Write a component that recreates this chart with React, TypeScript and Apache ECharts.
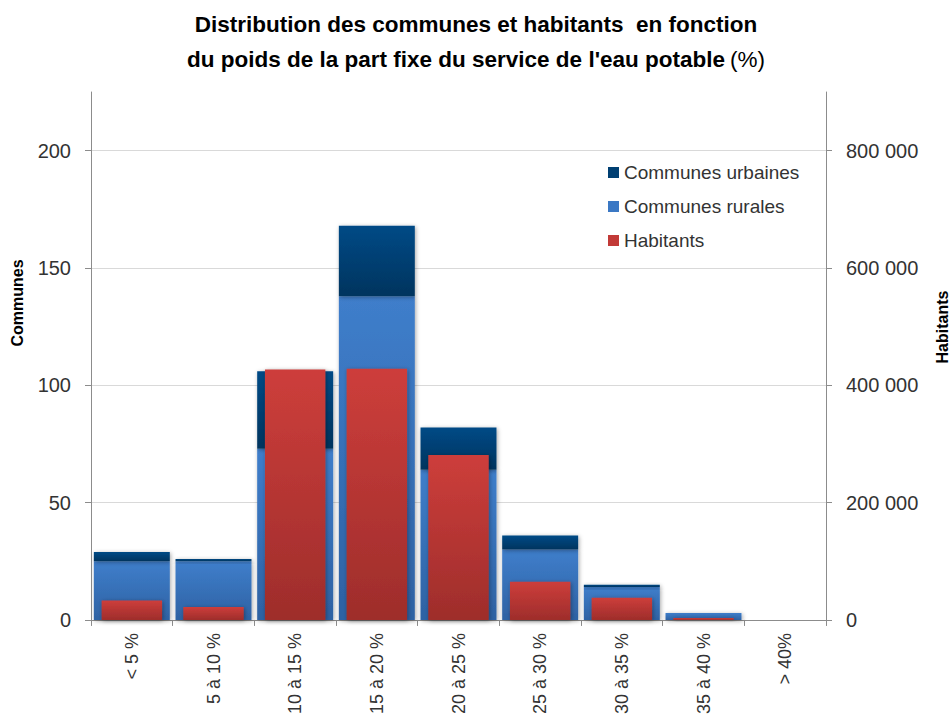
import React, { useEffect, useRef } from "react";
import * as echarts from "echarts";

const categories = ["< 5 %", "5 à 10 %", "10 à 15 %", "15 à 20 %", "20 à 25 %", "25 à 30 %", "30 à 35 %", "35 à 40 %", "> 40%"];
const communesRurales = [25, 25, 73, 138, 64, 30, 14, 3, 0];
const communesUrbaines = [4, 1, 33, 30, 18, 6, 1, 0, 0];
const habitants = [33000, 22000, 427000, 428000, 281000, 65000, 38000, 3500, 0];

const FONT = "'Liberation Sans', Arial, sans-serif";

function grad(top: string, bottom: string) {
  return new echarts.graphic.LinearGradient(0, 0, 0, 1, [
    { offset: 0, color: top },
    { offset: 1, color: bottom },
  ]);
}

export default function App() {
  const ref = useRef<HTMLDivElement>(null);
  useEffect(() => {
    if (!ref.current) return;
    const chart = echarts.init(ref.current, undefined, { renderer: "svg" });
    const shadow = {
      shadowBlur: 4,
      shadowColor: "rgba(0,0,0,0.35)",
      shadowOffsetX: 1,
      shadowOffsetY: 1,
    };
    chart.setOption({
      animation: false,
      backgroundColor: "#ffffff",
      title: {
        text: "{b|Distribution des communes et habitants  en fonction}\n{b|du poids de la part fixe du service de l'eau potable} {n|(%)}",
        left: "center",
        top: 2,
        textStyle: {
          rich: {
            b: { fontFamily: FONT, fontWeight: "bold", fontSize: 22.5, color: "#000", lineHeight: 35 },
            n: { fontFamily: FONT, fontWeight: "normal", fontSize: 22.5, color: "#000", lineHeight: 35 },
          },
        },
      },
      legend: {
        orient: "vertical",
        left: 603,
        top: 158,
        itemGap: 15,
        itemWidth: 11,
        itemHeight: 11,
        icon: "rect",
        textStyle: { fontFamily: FONT, fontSize: 19, color: "#333", padding: [0, 0, 0, 0] },
        data: [
          { name: "Communes urbaines", itemStyle: { color: "#003F72" } },
          { name: "Communes rurales", itemStyle: { color: "#3B78C4" } },
          { name: "Habitants", itemStyle: { color: "#C23A37" } },
        ],
      },
      grid: { left: 91, right: 126, top: 92, bottom: 95 },
      xAxis: [
        {
          type: "category",
          data: categories,
          axisLine: { show: true, lineStyle: { color: "#8c8c8c", width: 1 } },
          axisTick: { show: true, alignWithLabel: false, length: 6, lineStyle: { color: "#8c8c8c" } },
          axisLabel: {
            rotate: 90,
            margin: 13,
            fontFamily: FONT,
            fontSize: 18,
            color: "#333",
            interval: 0,
          },
        },
        {
          type: "category",
          data: categories,
          show: false,
        },
      ],
      yAxis: [
        {
          type: "value",
          min: 0,
          max: 225,
          interval: 50,
          position: "left",
          axisLine: { show: true, lineStyle: { color: "#8c8c8c" } },
          axisTick: { show: true, length: 6, lineStyle: { color: "#8c8c8c" } },
          axisLabel: {
            margin: 20,
            fontFamily: FONT,
            fontSize: 20,
            color: "#333",
            showMaxLabel: false,
          },
          splitLine: { show: true, showMaxLine: false, lineStyle: { color: "#d9d9d9" } },
        },
        {
          type: "value",
          min: 0,
          max: 900000,
          interval: 200000,
          position: "right",
          axisLine: { show: true, lineStyle: { color: "#8c8c8c" } },
          axisTick: { show: true, length: 6, lineStyle: { color: "#8c8c8c" } },
          axisLabel: {
            margin: 20,
            fontFamily: FONT,
            fontSize: 20,
            color: "#333",
            showMaxLabel: false,
            formatter: (v: number) => (v === 0 ? "0" : String(v).replace(/\B(?=(\d{3})+(?!\d))/g, " ")),
          },
          splitLine: { show: false },
        },
      ],
      graphic: [
        {
          type: "text",
          x: 17,
          y: 303,
          rotation: Math.PI / 2,
          style: {
            text: "Communes",
            fontFamily: FONT,
            fontWeight: "bold",
            fontSize: 16,
            fill: "#000",
            align: "center",
            verticalAlign: "middle",
          },
        },
        {
          type: "text",
          x: 942,
          y: 327,
          rotation: Math.PI / 2,
          style: {
            text: "Habitants",
            fontFamily: FONT,
            fontWeight: "bold",
            fontSize: 16,
            fill: "#000",
            align: "center",
            verticalAlign: "middle",
          },
        },
      ],
      series: [
        {
          name: "Communes rurales",
          type: "bar",
          stack: "communes",
          xAxisIndex: 0,
          yAxisIndex: 0,
          barCategoryGap: "7%",
          data: communesRurales,
          itemStyle: { color: grad("#3F7ECB", "#2E62A3"), ...shadow },
        },
        {
          name: "Communes urbaines",
          type: "bar",
          stack: "communes",
          xAxisIndex: 0,
          yAxisIndex: 0,
          barCategoryGap: "7%",
          data: communesUrbaines,
          itemStyle: { color: grad("#004A86", "#00345E"), ...shadow },
        },
        {
          name: "Habitants",
          type: "bar",
          xAxisIndex: 1,
          yAxisIndex: 1,
          barCategoryGap: "26%",
          data: habitants,
          itemStyle: { color: grad("#CD3E3B", "#9E2D2B"), ...shadow },
        },
      ],
    });
    return () => chart.dispose();
  }, []);
  return <div ref={ref} style={{ width: 952, height: 717, position: "fixed", left: 0, top: 0 }} />;
}
